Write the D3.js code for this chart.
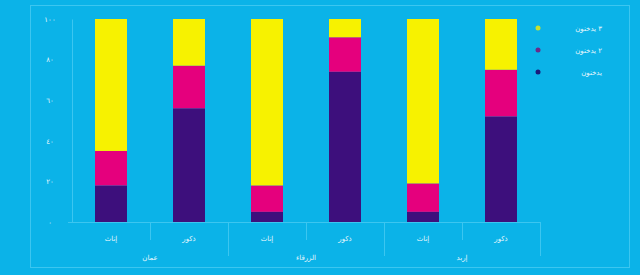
<!DOCTYPE html>
<html>
<head>
<meta charset="utf-8">
<script src="https://cdn.jsdelivr.net/npm/d3@7"></script>
<style>
  body { margin: 0; background: #0bb3e8; }
  text { font-family: "DejaVu Sans", sans-serif; fill: #e8f7fd; }
</style>
</head>
<body>
<script>
// data (percent)
const cities = ['عمان', 'الزرقاء', 'إربد'];
const genders = ['إناث', 'ذكور'];
const seriesNames = ['يدخنون', '٢ يدخنون', '٣ يدخنون'];
const seriesColors = ['#3d0f7c', '#e5007d', '#f7f200'];
const legendColors = ['#1a1a7a', '#6a2a8a', '#c8e030'];
const s1 = [18, 56, 5, 74, 5, 52];
const s2 = [17, 21, 13, 17, 14, 23];
const s3 = [65, 23, 82, 9, 81, 25];
const yTicks = [0, 20, 40, 60, 80, 100];

const toArabic = n => String(n).replace(/[0-9]/g, d => '٠١٢٣٤٥٦٧٨٩'[+d]);

const rows = [];
cities.forEach((c, ci) => {
  genders.forEach((g, gi) => {
    const i = ci * 2 + gi;
    rows.push({ key: c + '|' + g, city: c, gender: g, a: s1[i], b: s2[i], c: s3[i] });
  });
});

const svg = d3.select('body').append('svg')
  .attr('width', 640)
  .attr('height', 275);

// outer frame
svg.append('rect')
  .attr('x', 30.5).attr('y', 5.5)
  .attr('width', 599).attr('height', 262)
  .attr('fill', 'none')
  .attr('stroke', '#3cc6f0')
  .attr('stroke-width', 1);

const x = d3.scaleBand()
  .domain(rows.map(d => d.key))
  .range([72, 540])
  .paddingInner(0.59)
  .paddingOuter(0.295);

const y = d3.scaleLinear()
  .domain([0, 100])
  .range([222, 19]);

const stack = d3.stack().keys(['a', 'b', 'c']);
const layers = stack(rows);

svg.selectAll('g.layer')
  .data(layers)
  .enter().append('g')
  .attr('class', 'layer')
  .attr('fill', (d, i) => seriesColors[i])
  .selectAll('rect')
  .data(d => d)
  .enter().append('rect')
  .attr('x', d => x(d.data.key))
  .attr('width', x.bandwidth())
  .attr('y', d => y(d[1]))
  .attr('height', d => y(d[0]) - y(d[1]));

// y axis
const yAxis = d3.axisLeft(y)
  .tickValues(yTicks)
  .tickSize(0)
  .tickPadding(22)
  .tickFormat(toArabic);

const ya = svg.append('g')
  .attr('transform', 'translate(72,0)')
  .call(yAxis);
ya.select('.domain').attr('stroke', '#3cc6f0');
ya.selectAll('text')
  .attr('font-size', 7)
  .attr('text-anchor', 'middle')
  .attr('fill', '#e8f7fd');

// x axis baseline and separators
const lineColor = '#3cc6f0';
svg.append('line')
  .attr('x1', 68).attr('x2', 540)
  .attr('y1', 222.5).attr('y2', 222.5)
  .attr('stroke', lineColor);

const step = x.step();
const x0 = x.range()[0];
d3.range(1, rows.length + 1).forEach(i => {
  const xx = Math.round(x0 + i * step) + 0.5;
  const long = i % 2 === 0;
  svg.append('line')
    .attr('x1', xx).attr('x2', xx)
    .attr('y1', 222).attr('y2', long ? 256 : 240)
    .attr('stroke', lineColor);
});

// category labels
svg.selectAll('text.cat')
  .data(rows)
  .enter().append('text')
  .attr('class', 'cat')
  .attr('x', d => x(d.key) + x.bandwidth() / 2)
  .attr('y', 241)
  .attr('text-anchor', 'middle')
  .attr('font-size', 7)
  .text(d => d.gender);

// group labels
svg.selectAll('text.grp')
  .data(cities)
  .enter().append('text')
  .attr('class', 'grp')
  .attr('x', (d, i) => x0 + (i * 2 + 1) * step)
  .attr('y', 260)
  .attr('text-anchor', 'middle')
  .attr('font-size', 7)
  .text(d => d);

// legend
const legendOrder = [2, 1, 0];
const legend = svg.selectAll('g.legend')
  .data(legendOrder)
  .enter().append('g')
  .attr('class', 'legend')
  .attr('transform', (d, i) => 'translate(0,' + (28 + i * 22) + ')');

legend.append('circle')
  .attr('cx', 538)
  .attr('cy', 0)
  .attr('r', 2.5)
  .attr('fill', d => legendColors[d]);

legend.append('text')
  .attr('x', 602)
  .attr('y', 2.5)
  .attr('text-anchor', 'end')
  .attr('font-size', 7)
  .text(d => seriesNames[d]);
</script>
</body>
</html>
